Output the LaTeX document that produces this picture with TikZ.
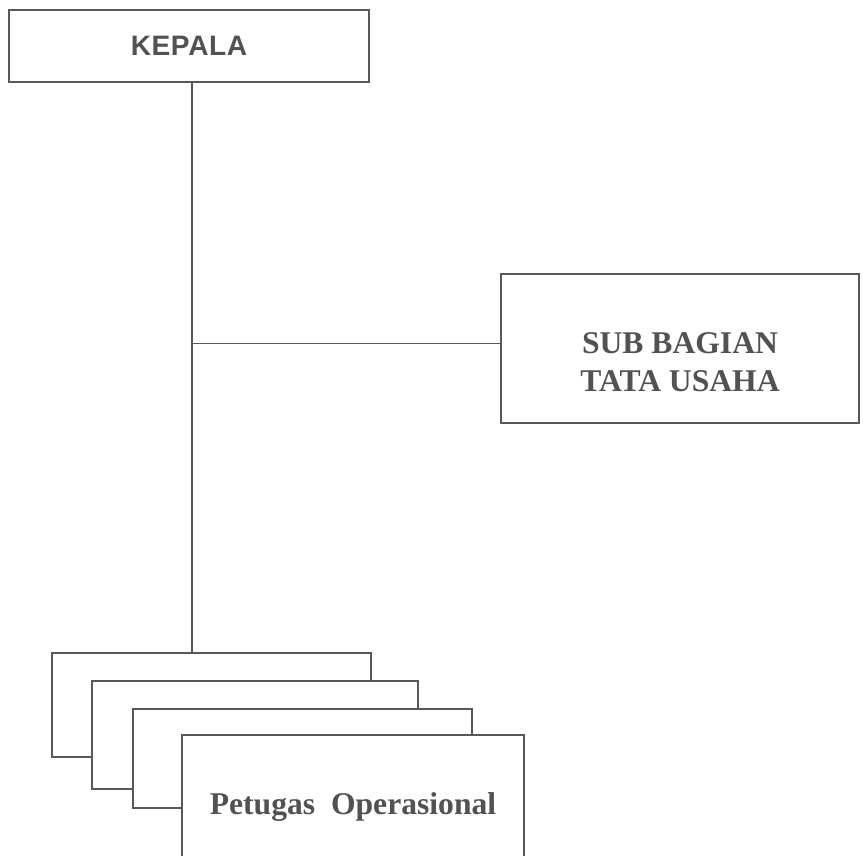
\documentclass[tikz,border=0pt]{standalone}
\usepackage{fontspec}
\setmainfont{Liberation Serif}
\newfontfamily\kepalafont[LetterSpace=2]{Liberation Sans}
\usepackage{xcolor}
\definecolor{linegray}{RGB}{88,88,88}
\definecolor{textgray}{RGB}{82,82,82}

\begin{document}
\begin{tikzpicture}[x=0.02cm, y=0.02cm,
  unitbox/.style={draw=linegray, line width=1.1pt, fill=white, inner sep=0pt},
  conn/.style={draw=linegray, line width=1.1pt},
  unittext/.style={text=textgray, font=\bfseries\fontsize{18}{21.6}\selectfont, align=center}]
\clip (0,0) rectangle (863,856);
% kepala
\node[unitbox, minimum width=7.2cm, minimum height=1.44cm, text=textgray,
  font=\kepalafont\bfseries\fontsize{16}{19}\selectfont] (kepala) at (189,810) {KEPALA};
% sub bagian tata usaha
\node[unitbox, minimum width=7.16cm, minimum height=2.98cm] (tu) at (680,507.5) {};
\node[unittext] (tulabel) at ([yshift=-0.28cm]tu.center) {SUB BAGIAN\\TATA USAHA};
% petugas operasional (stacked)
\node[unitbox, minimum width=6.38cm, minimum height=2.08cm] (ops1) at (211.5,151) {};
\node[unitbox, minimum width=6.52cm, minimum height=2.16cm] (ops2) at (255,121) {};
\node[unitbox, minimum width=6.78cm, minimum height=1.98cm] (ops3) at (302.5,97.5) {};
\node[unitbox, minimum width=6.84cm, minimum height=3.32cm, anchor=north] (ops4) at (353,122) {};
\node[unittext] (opslabel) at ([yshift=-1.46cm]ops4.north) {Petugas\ \ Operasional};
% garis
\coordinate (tuin) at ([yshift=0.1cm]tu.west);
\draw[conn] (kepala.south -| 192,0) -- (192,0 |- ops1.north);
\draw[conn] (192,0 |- tuin) -- (tuin);
\end{tikzpicture}
\end{document}
